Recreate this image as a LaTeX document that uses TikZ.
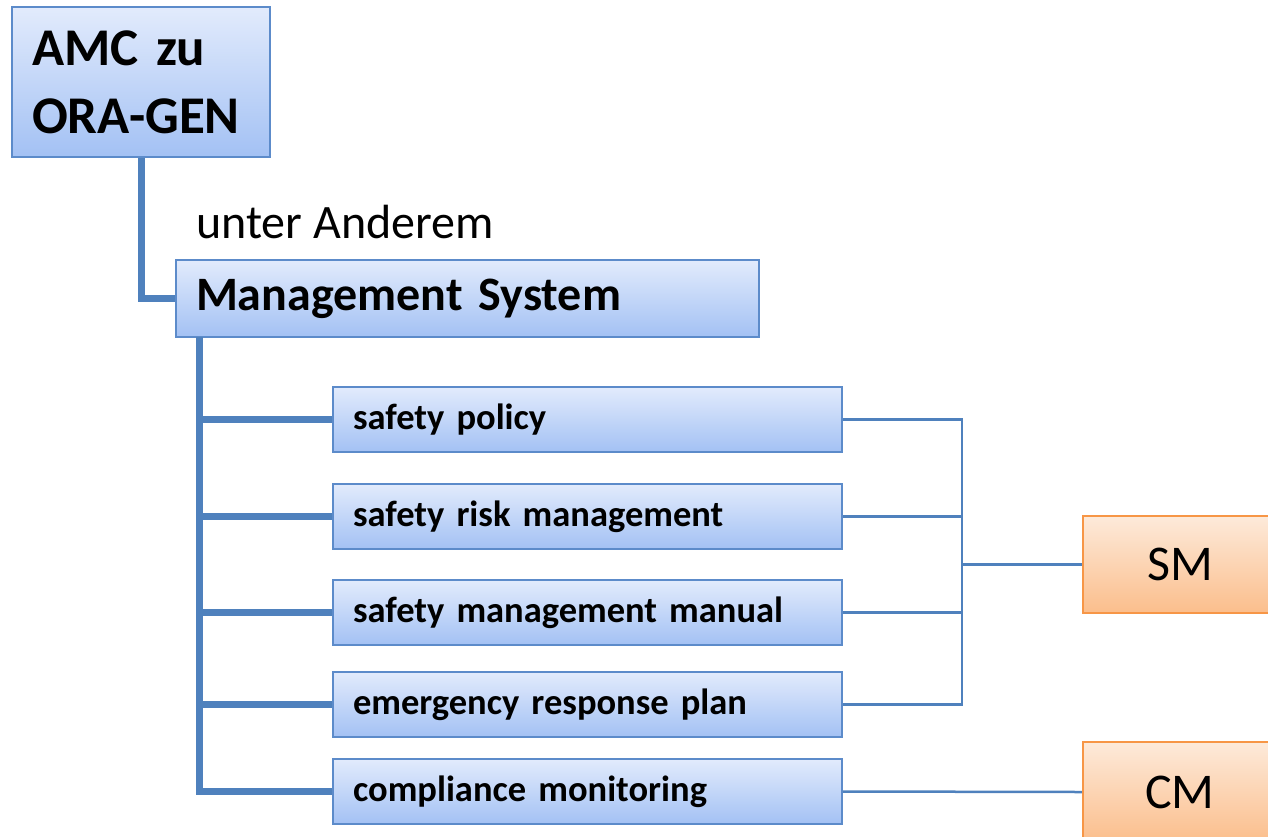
\documentclass[tikz,border=0pt]{standalone}
\usepackage{fontspec}
\setmainfont{Carlito}

\definecolor{lineblue}{RGB}{79,129,189}
\definecolor{boxedge}{RGB}{92,139,202}
\definecolor{boxtop}{RGB}{226,235,252}
\definecolor{boxbot}{RGB}{163,193,244}
\definecolor{orangeedge}{RGB}{247,150,70}
\definecolor{orangetop}{RGB}{253,234,218}
\definecolor{orangebot}{RGB}{251,190,140}

\tikzset{
  bluebox/.style={draw=boxedge, line width=2pt, top color=boxtop, bottom color=boxbot,
    inner xsep=20pt, inner ysep=0pt, align=left},
  orangebox/.style={draw=orangeedge, line width=2.5pt, top color=orangetop, bottom color=orangebot,
    inner sep=0pt, align=center, font=\fontsize{50}{60}\selectfont},
  thickline/.style={draw=lineblue, line width=7pt},
  thinline/.style={draw=lineblue, line width=2.5pt}
}

\begin{document}
\begin{tikzpicture}[x=1pt,y=1pt]
    \useasboundingbox (0,0) rectangle (1268,-836);

    % boxes
    \node[bluebox, minimum width=258pt, text width=218pt, minimum height=150pt,
          font=\fontsize{53}{68}\selectfont\bfseries] (amc) at (141,-82) {AMC zu\\ORA-GEN};
    \node[anchor=base west, inner sep=0pt, font=\fontsize{48}{56}\selectfont] (unter) at (196,-238) {unter Anderem};
    \node[bluebox, minimum width=583pt, text width=543pt, minimum height=77pt,
          font=\fontsize{48}{58}\selectfont\bfseries] (ms) at (467.5,-298.5) {Management System};

    \tikzset{child/.style={bluebox, minimum width=509pt, text width=469pt, minimum height=65pt,
          font=\fontsize{36.5}{42}\selectfont\bfseries}}
    \node[child] (c1) at (587.5,-419.5) {safety policy};
    \node[child] (c2) at (587.5,-516.5) {safety risk management};
    \node[child] (c3) at (587.5,-612.5) {safety management manual};
    \node[child] (c4) at (587.5,-704.5) {emergency response plan};
    \node[child] (c5) at (587.5,-791.5) {compliance monitoring};

    \node[orangebox, minimum width=194pt, minimum height=97pt] (sm) at (1180,-564.5) {SM};
    \node[orangebox, minimum width=194pt, minimum height=100pt] (cm) at (1180,-792) {CM};

    % connectors
    \coordinate (trunk) at (199,-337);
    \coordinate (bus) at (962,-564.5);
    \draw[thickline] (amc.south) |- (ms.west);
    \foreach \c in {c1,c2,c3,c4,c5}
        \draw[thickline] (trunk) |- (\c.west);
    \foreach \c in {c1,c2,c3,c4}
        \draw[thinline] (\c.east) -| (bus);
    \draw[thinline] (bus) -- (sm.west);
    \draw[thinline] (c5.east) -- (cm.west);
\end{tikzpicture}
\end{document}
